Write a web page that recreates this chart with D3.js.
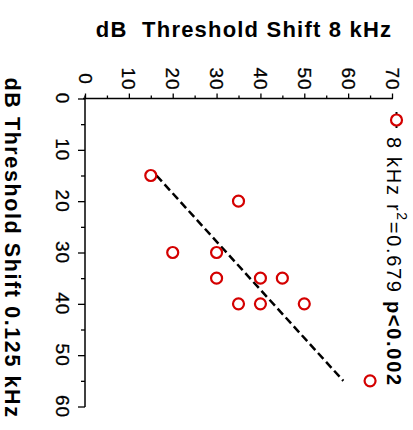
<!DOCTYPE html>
<html><head><meta charset="utf-8">
<script src="https://cdn.jsdelivr.net/npm/d3@7"></script>
<style>body{margin:0;background:#fff}svg{display:block}</style></head>
<body><svg id="c" width="413" height="430"></svg>
<script>
// data
const shift8k = [15, 35, 20, 30, 30, 40, 45, 35, 40, 50, 65];
const shift0125 = [15, 20, 30, 30, 35, 35, 35, 40, 40, 40, 55];
const fit0125 = [15, 55];
const fit8k = [16.3, 58.9];
const ticks8k = [0, 10, 20, 30, 40, 50, 60, 70];
const minor8k = [5, 15, 25, 35, 45, 55, 65];
const ticks0125 = [0, 10, 20, 30, 40, 50, 60];
const minor0125 = [5, 15, 25, 35, 45, 55];
const titleText = "dB  Threshold Shift 8 kHz";
const yTitleText = "dB Threshold Shift 0.125 kHz";
const legendMain = "8 kHz r";
const legendSup = "2";
const legendRest = "=0.679 ";
const legendP = "p<0.002";

const svg = d3.select("#c");
const font = "Liberation Sans, Arial, sans-serif";
const red = "#d40000";

const x = d3.scaleLinear().domain([0, 70]).range([85, 392]);
const y = d3.scaleLinear().domain([0, 60]).range([98.5, 406.5]);

// top axis (8 kHz)
const gx = svg.append("g").attr("transform", `translate(0,${y(0)})`);
gx.call(d3.axisTop(x).tickValues(ticks8k).tickSize(5).tickFormat(""));
gx.append("g").call(d3.axisTop(x).tickValues(minor8k).tickSize(3).tickFormat(""));
gx.selectAll(".domain").remove();
gx.selectAll("line").attr("stroke", "#000").attr("stroke-width", 1.3);
svg.append("line").attr("x1", x(0) - 2).attr("x2", x(70) + 1).attr("y1", y(0)).attr("y2", y(0))
  .attr("stroke", "#000").attr("stroke-width", 1.5);

// left axis (0.125 kHz)
const gy = svg.append("g").attr("transform", `translate(${x(0)},0)`);
gy.call(d3.axisLeft(y).tickValues(ticks0125).tickSize(7).tickFormat(""));
gy.append("g").call(d3.axisLeft(y).tickValues(minor0125).tickSize(4).tickFormat(""));
gy.selectAll(".domain").remove();
gy.selectAll("line").attr("stroke", "#000").attr("stroke-width", 1.3);
svg.append("line").attr("x1", x(0)).attr("x2", x(0)).attr("y1", y(0) - 3).attr("y2", y(60) + 0.5)
  .attr("stroke", "#000").attr("stroke-width", 1.5);

// tick labels (rotated)
svg.append("g").selectAll("text").data(ticks8k).join("text")
  .attr("transform", d => `translate(${x(d)},79) rotate(90)`)
  .attr("text-anchor", "middle").attr("dominant-baseline", "central")
  .attr("font-family", font).attr("font-size", 19).attr("letter-spacing", 1)
  .attr("stroke", "#000").attr("stroke-width", 0.3).text(d => d);
svg.append("g").selectAll("text").data(ticks0125).join("text")
  .attr("transform", d => `translate(62,${y(d)}) rotate(90)`)
  .attr("text-anchor", "middle").attr("dominant-baseline", "central")
  .attr("font-family", font).attr("font-size", 19).attr("letter-spacing", 1)
  .attr("stroke", "#000").attr("stroke-width", 0.3).text(d => d);

// titles
svg.append("text").attr("x", 244).attr("y", 37).attr("text-anchor", "middle")
  .attr("font-family", font).attr("font-weight", "bold").attr("font-size", 22)
  .attr("letter-spacing", 1.2)
  .style("white-space", "pre").text(titleText);
svg.append("text").attr("transform", `translate(12,248) rotate(90)`)
  .attr("text-anchor", "middle").attr("dominant-baseline", "central")
  .attr("font-family", font).attr("font-weight", "bold").attr("font-size", 21.5)
  .attr("letter-spacing", 1.6)
  .text(yTitleText);

// regression line
svg.append("line")
  .attr("x1", x(fit8k[0])).attr("y1", y(fit0125[0]))
  .attr("x2", x(fit8k[1])).attr("y2", y(fit0125[1]))
  .attr("stroke", "#000").attr("stroke-width", 2.5).attr("stroke-dasharray", "8,4");

// points
svg.append("g").selectAll("circle").data(shift8k).join("circle")
  .attr("cx", d => x(d)).attr("cy", (d, i) => y(shift0125[i])).attr("r", 5.5)
  .attr("fill", "none").attr("stroke", red).attr("stroke-width", 2.2);

// legend
const lx = 396.5, ly = 120;
svg.append("line").attr("x1", lx).attr("x2", lx).attr("y1", ly - 8).attr("y2", ly + 8)
  .attr("stroke", "#000").attr("stroke-width", 2);
svg.append("circle").attr("cx", lx).attr("cy", ly).attr("r", 5.5)
  .attr("fill", "#fff").attr("stroke", red).attr("stroke-width", 2.2);
const lt = svg.append("text").attr("transform", `translate(394,137) rotate(90)`)
  .attr("dominant-baseline", "central")
  .attr("font-family", font).attr("font-size", 20).attr("letter-spacing", 1.7)
  .style("white-space", "pre");
lt.append("tspan").text(legendMain);
lt.append("tspan").attr("font-size", 14).attr("dy", -8).text(legendSup);
lt.append("tspan").attr("dy", 8).text(legendRest);
lt.append("tspan").attr("font-weight", "bold").text(legendP);
</script></body></html>
